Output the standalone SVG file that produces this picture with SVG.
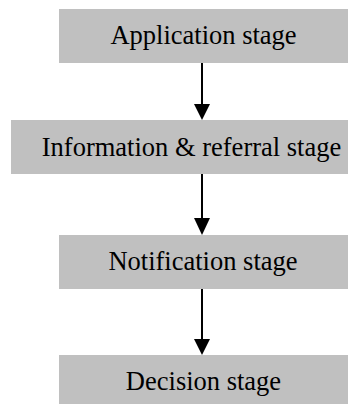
<svg xmlns="http://www.w3.org/2000/svg" width="360" height="405" viewBox="0 0 360 405">
<style>
.box{fill:#c0c0c0;stroke:none}
.lbl{font-size:26.5px;fill:#000;text-anchor:middle}
.conn{stroke:#000;stroke-width:2;fill:none}
.head{fill:#000}
</style>
<rect width="360" height="405" fill="#fff"/>
<g font-family="'Liberation Serif', serif">
<g id="node-application">
<rect class="box" x="59" y="9" width="289" height="54"/>
<text class="lbl" x="203.5" y="43.5">Application stage</text>
</g>
<g id="node-information">
<rect class="box" x="11" y="120" width="337" height="54"/>
<text class="lbl" x="191.5" y="155.5">Information &amp; referral stage</text>
</g>
<g id="node-notification">
<rect class="box" x="59" y="235" width="289" height="54"/>
<text class="lbl" x="203" y="269.5">Notification stage</text>
</g>
<g id="node-decision">
<rect class="box" x="59" y="355" width="289" height="49"/>
<text class="lbl" x="203.5" y="390">Decision stage</text>
</g>
</g>
<g id="connectors">
<line class="conn" x1="202" y1="63" x2="202" y2="105"/>
<polygon class="head" points="194,104 210,104 202,120"/>
<line class="conn" x1="202" y1="174" x2="202" y2="219"/>
<polygon class="head" points="194,218 210,218 202,235"/>
<line class="conn" x1="202" y1="289" x2="202" y2="340"/>
<polygon class="head" points="194,339 210,339 202,355"/>
</g>
</svg>
